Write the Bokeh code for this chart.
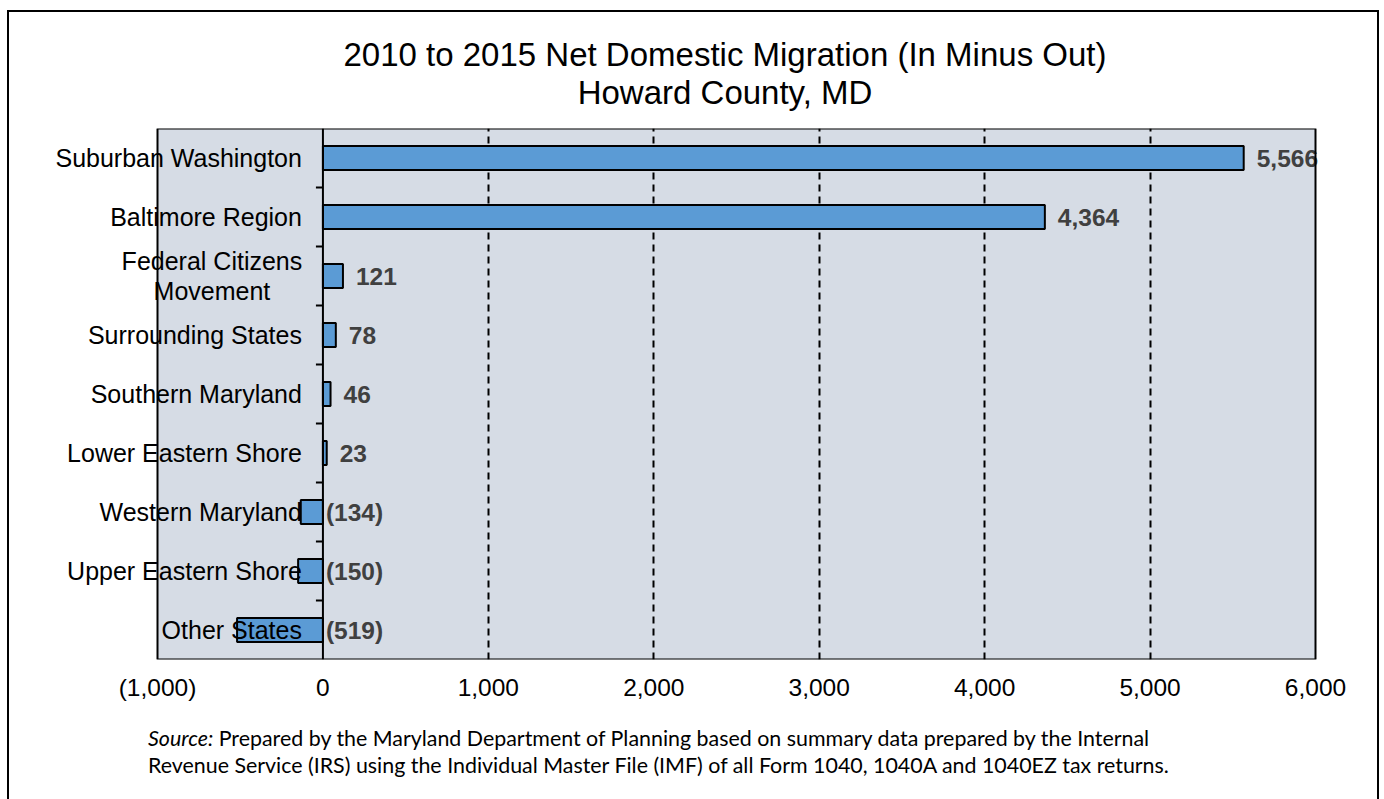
from bokeh.plotting import figure
from bokeh.models import (FactorRange, Range1d, FixedTicker, NumeralTickFormatter,
                          Span, BoxAnnotation, ColumnDataSource, Div)
from bokeh.layouts import column
from bokeh.core.properties import value
from bokeh.embed import file_html
from bokeh.resources import INLINE
import math

# ---- data ----
categories = ["Suburban Washington", "Baltimore Region", "Federal Citizens\nMovement",
              "Surrounding States", "Southern Maryland", "Lower Eastern Shore",
              "Western Maryland", "Upper Eastern Shore", "Other States"]
values = [5566, 4364, 121, 78, 46, 23, -134, -150, -519]
x_ticks = [-1000, 0, 1000, 2000, 3000, 4000, 5000, 6000]
title_lines = ["2010 to 2015 Net Domestic Migration (In Minus Out)", "Howard County, MD"]
source_italic = "Source:"
source_rest = ["Prepared by the Maryland Department of Planning based on summary data prepared by the Internal",
               "Revenue Service (IRS) using the Individual Master File (IMF) of all Form 1040, 1040A and 1040EZ tax returns."]

ARIAL = "Liberation Sans"
BLUE = "#5B9BD5"
BG = "#D6DCE5"

# ---- layout (page pixels) ----
BOX_X, BOX_Y, BOX_W = 7, 10, 1372          # outer framed box
TITLE_H = 108                              # title block height
AREA_L, AREA_R, AREA_T, AREA_B = 157, 1315, 128, 659   # shaded plot area
FRAME_L, FRAME_R = 30, 1345                # wider frame so labels are not clipped
FIG_BOTTOM = 725                           # figure ends here, note below
FIG_H = FIG_BOTTOM - (BOX_Y + TITLE_H)
k = (AREA_R - AREA_L) / (x_ticks[-1] - x_ticks[0])
x_start = x_ticks[0] - (AREA_L - FRAME_L) / k
x_end = x_ticks[-1] + (FRAME_R - AREA_R) / k


def fmt(v):
    s = f"{abs(v):,}"
    return f"({s})" if v < 0 else s


p = figure(width=BOX_W, height=FIG_H,
           y_range=FactorRange(*reversed(categories)),
           x_range=Range1d(x_start, x_end),
           output_backend="svg", toolbar_location=None,
           y_axis_location=None, title_location=None,
           min_border_left=FRAME_L - BOX_X,
           min_border_right=BOX_X + BOX_W - FRAME_R,
           min_border_top=AREA_T - (BOX_Y + TITLE_H),
           min_border_bottom=FIG_BOTTOM - AREA_B,
           background_fill_color="white", border_fill_color=None,
           outline_line_color=None, margin=0)

# shaded plot area
p.add_layout(BoxAnnotation(left=x_ticks[0], right=x_ticks[-1], fill_color=BG, fill_alpha=1,
                           line_color=None, level="image"))

# x axis
p.xaxis.ticker = FixedTicker(ticks=x_ticks)
p.xaxis.formatter = NumeralTickFormatter(format="(0,0)")
p.xaxis.axis_line_color = None
p.xaxis.major_tick_line_color = None
p.xaxis.minor_tick_line_color = None
p.xaxis.major_label_text_font = ARIAL
p.xaxis.major_label_text_font_size = "24.5px"
p.xaxis.major_label_text_color = "black"
p.xaxis.major_label_standoff = 8

# grid
p.ygrid.visible = False
p.xgrid.ticker = FixedTicker(ticks=[t for t in x_ticks if 0 < t < x_ticks[-1]])
p.xgrid.grid_line_color = "black"
p.xgrid.grid_line_width = 2
p.xgrid.grid_line_dash = "7 5"

src = ColumnDataSource(dict(
    cat=categories, val=values,
    lx=[max(v, 0) for v in values],
    loff=[13 if v > 0 else 3 for v in values],
    txt=[fmt(v) for v in values],
))

p.hbar(y="cat", left=0, right="val", height=0.41, source=src,
       fill_color=BLUE, line_color="black", line_width=2)

# zero axis line
p.add_layout(Span(location=0, dimension="height", line_color="black", line_width=2))

# boundary tick marks on the zero axis
bounds = list(range(1, len(categories)))
p.ray(x=[0] * len(bounds), y=bounds, length=7, length_units="screen", angle=math.pi,
      line_color="black", line_width=2)

# category labels
single = [c for c in categories if "\n" not in c]
multi = [c for c in categories if "\n" in c]
p.text(x=[0] * len(single), y=single, text=single, x_offset=-21,
       text_align="right", text_baseline="middle",
       text_font=value(ARIAL), text_font_size="25px", text_color="black")
p.text(x=[0] * len(multi), y=multi, text=multi, x_offset=-111,
       text_align="center", text_baseline="middle", text_line_height=1.1,
       text_font=value(ARIAL), text_font_size="25px", text_color="black")

# value labels
p.text(x="lx", y="cat", text="txt", x_offset="loff", source=src,
       text_align="left", text_baseline="middle",
       text_font=value(ARIAL), text_font_size="24.5px", text_font_style="bold",
       text_color="#404040")

# plot-area border, drawn over the labels like the original
p.add_layout(BoxAnnotation(left=x_ticks[0], right=x_ticks[-1], fill_color=None, fill_alpha=0,
                           line_color="black", line_alpha=1, line_width=2, level="annotation"))

# title block
title_html = ('<div style="box-sizing: content-box; width: 1308px; font-family: \'Liberation Sans\', Arial, sans-serif; '
              'font-size: 33px; line-height: 38px; text-align: center; padding-top: 26px; padding-left: 64px; '
              'white-space: nowrap; color: black;">'
              + "<br>".join(title_lines) + '</div>')
title_div = Div(text=title_html, width=BOX_W, height=TITLE_H, margin=0)

# source note
note_html = ('<div style="font-family: Lato, \'Open Sans\', sans-serif; font-size: 21.4px; '
             'line-height: 27px; padding-left: 141px; white-space: nowrap; color: black;">'
             f'<i>{source_italic}</i> {source_rest[0]}<br>{source_rest[1]}</div>')
note = Div(text=note_html, width=BOX_W, height=799 - FIG_BOTTOM, margin=0)

layout = column(title_div, p, note, spacing=0, width=BOX_W, margin=0,
                styles={"position": "absolute", "left": f"{BOX_X}px", "top": f"{BOX_Y}px",
                        "background": "white",
                        "box-shadow": "inset 2px 0 0 black, inset -2px 0 0 black, inset 0 2px 0 black"})

open("out.html", "w").write(file_html(layout, INLINE))
